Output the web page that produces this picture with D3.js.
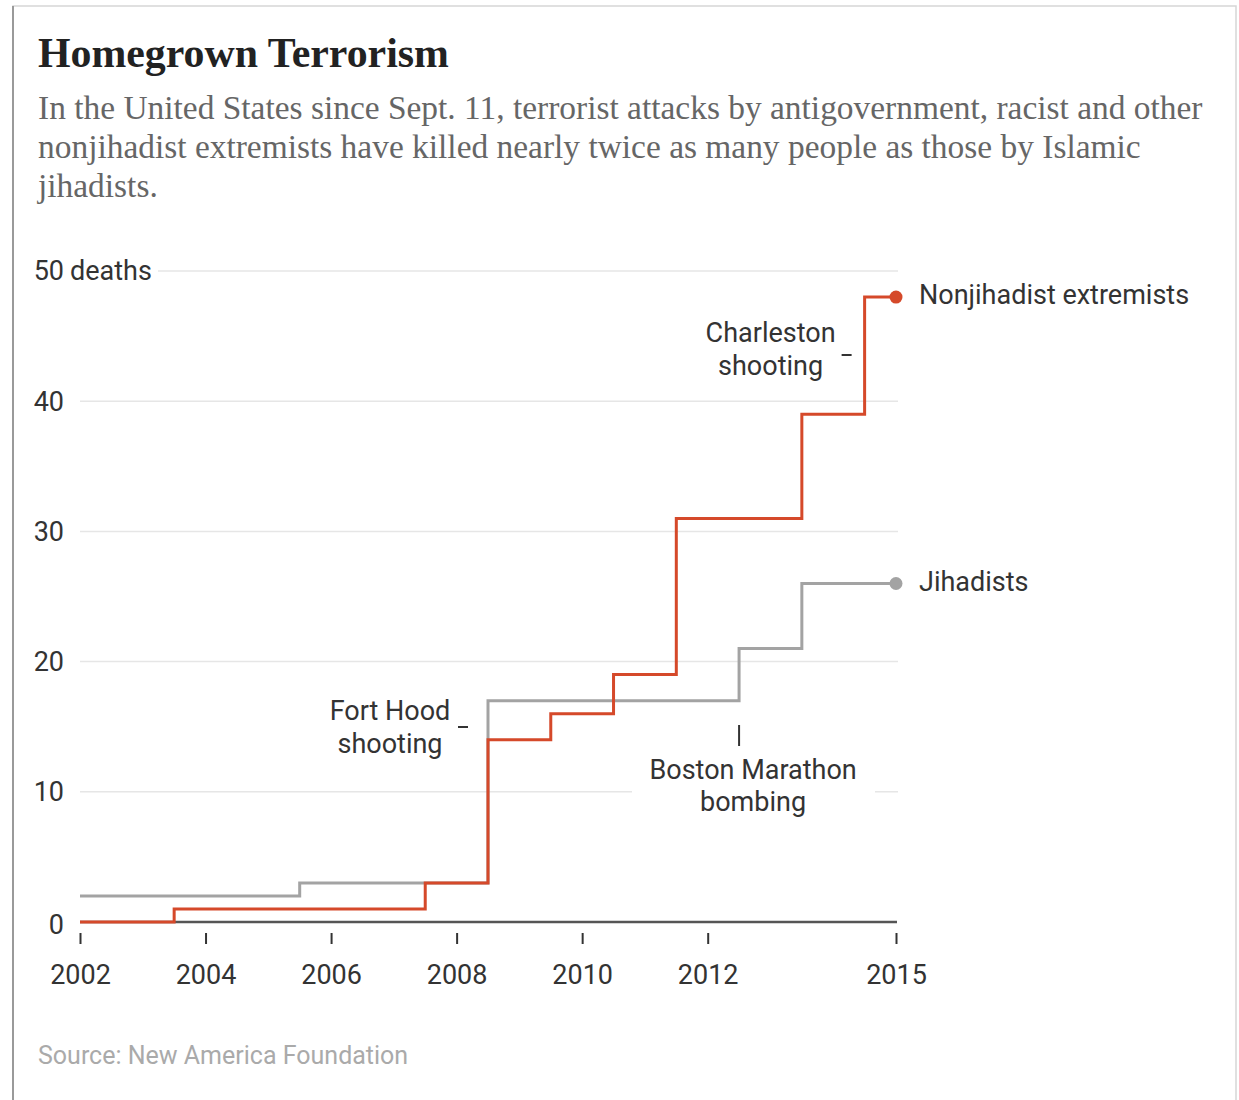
<!DOCTYPE html>
<html>
<head>
<meta charset="utf-8">
<script src="https://cdn.jsdelivr.net/npm/d3@7"></script>
<style>
  html, body { margin: 0; padding: 0; background: #fff; }
  svg { display: block; }
</style>
</head>
<body>
<svg id="chart" width="1239" height="1100"></svg>
<script>
// ---- Data ----
const years = [2002, 2003, 2004, 2005, 2006, 2007, 2008, 2009, 2010, 2011, 2012, 2013, 2014, 2015];
const nonjihadist = [0, 0, 1, 1, 1, 1, 3, 14, 16, 19, 31, 31, 39, 48];
const jihadist = [2, 2, 2, 2, 3, 3, 3, 17, 17, 17, 17, 21, 26, 26];
const xTicks = [2002, 2004, 2006, 2008, 2010, 2012, 2015];
const yTicks = [0, 10, 20, 30, 40, 50];
const seriesNames = ["Nonjihadist extremists", "Jihadists"];
const titleText = "Homegrown Terrorism";
const subtitleLines = [
  "In the United States since Sept. 11, terrorist attacks by antigovernment, racist and other",
  "nonjihadist extremists have killed nearly twice as many people as those by Islamic",
  "jihadists."
];
const annotationLabels = [
  ["Charleston", "shooting"],
  ["Fort Hood", "shooting"],
  ["Boston Marathon", "bombing"]
];
const annotationYears = [2014.5, 2008.5, 2012.5];
const sourceText = "Source: New America Foundation";

// ---- Setup ----
const svg = d3.select("#chart");
const SANS = "Roboto, 'Liberation Sans', Arial, sans-serif";
const SERIF = "'Liberation Serif', 'Times New Roman', serif";
const RED = "#d5492a";
const GRAY = "#a3a3a3";
const FS = 27;

// frame
svg.append("rect").attr("x", 13).attr("y", 6).attr("width", 1223).attr("height", 1110)
  .attr("fill", "#fff").attr("stroke", "#d6d6d6").attr("stroke-width", 1.5);
svg.append("line").attr("x1", 13).attr("x2", 13).attr("y1", 6).attr("y2", 1100)
  .attr("stroke", "#9a9a9a").attr("stroke-width", 2);

function fitText(sel, targetWidth) {
  const node = sel.node();
  const fs = parseFloat(sel.attr("font-size"));
  const w = node.getComputedTextLength();
  const nfs = fs * targetWidth / w;
  sel.attr("font-size", nfs);
  return nfs;
}

// Title
const title = svg.append("text").attr("x", 38).attr("y", 67)
  .attr("font-family", SERIF).attr("font-weight", "bold").attr("font-size", 41)
  .attr("fill", "#222").text(titleText);
fitText(title, 411);

// Subtitle
const sub = svg.append("g");
const subLine1 = sub.append("text").attr("x", 38).attr("y", 119)
  .attr("font-family", SERIF).attr("font-size", 29).attr("fill", "#666").text(subtitleLines[0]);
const subFs = fitText(subLine1, 1165);
subtitleLines.slice(1).forEach((t, i) => {
  sub.append("text").attr("x", 38).attr("y", 119 + 39 * (i + 1))
    .attr("font-family", SERIF).attr("font-size", subFs).attr("fill", "#666").text(t);
});

// Scales
const x = d3.scaleLinear().domain([2002, 2015]).range([80, 896]);
const y = d3.scaleLinear().domain([0, 50]).range([922, 271]);

// Grid lines
const grid = svg.append("g");
yTicks.filter(d => d > 0).forEach(d => {
  grid.append("line")
    .attr("x1", d === 50 ? 158 : 80).attr("x2", 898)
    .attr("y1", y(d)).attr("y2", y(d))
    .attr("stroke", "#e6e6e6").attr("stroke-width", 1.5);
});

// Y labels
const yl = svg.append("g").attr("font-family", SANS).attr("font-size", FS).attr("fill", "#333");
yTicks.forEach(d => {
  yl.append("text").attr("x", 64).attr("y", y(d) + (d === 0 ? 3 : 0)).attr("dy", "0.35em")
    .attr("text-anchor", "end").text(d);
  if (d === 50) {
    yl.append("text").attr("x", 70).attr("y", y(d)).attr("dy", "0.35em")
      .attr("text-anchor", "start").text("deaths");
  }
});

// X axis
const xAxisG = svg.append("g").attr("transform", `translate(0,${y(0)})`);
xAxisG.append("line").attr("x1", x(2002)).attr("x2", x(2015) + 1).attr("y1", 0).attr("y2", 0)
  .attr("stroke", "#555").attr("stroke-width", 2.5);
const xAxis = d3.axisBottom(x).tickValues(xTicks).tickFormat(d3.format("d")).tickSize(0).tickPadding(0);
const xa = svg.append("g").attr("transform", `translate(0,${y(0)})`).call(xAxis);
xa.select(".domain").remove();
xa.selectAll(".tick text").attr("font-family", SANS).attr("font-size", FS).attr("fill", "#333")
  .attr("y", 53).attr("dy", "0.35em");
xa.selectAll(".tick").append("line").attr("y1", 11).attr("y2", 22)
  .attr("stroke", "#333").attr("stroke-width", 2);

// Lines
const line = d3.line().x((d, i) => x(years[i])).y(d => y(d)).curve(d3.curveStep);
svg.append("path").datum(jihadist).attr("d", line).attr("fill", "none")
  .attr("stroke", GRAY).attr("stroke-width", 3);
svg.append("path").datum(nonjihadist).attr("d", line).attr("fill", "none")
  .attr("stroke", RED).attr("stroke-width", 3);

// End dots & labels
const last = years.length - 1;
[[nonjihadist, RED], [jihadist, GRAY]].forEach(([s, c], i) => {
  svg.append("circle").attr("cx", x(years[last])).attr("cy", y(s[last])).attr("r", 6.5).attr("fill", c);
  svg.append("text").attr("x", x(years[last]) + 23).attr("y", y(s[last]) - 2).attr("dy", "0.35em")
    .attr("font-family", SANS).attr("font-size", FS).attr("fill", "#333").text(seriesNames[i]);
});

// Annotations
const ann = svg.append("g").attr("font-family", SANS).attr("font-size", FS).attr("fill", "#333")
  .attr("text-anchor", "middle");
// Charleston
(function () {
  const ax = x(annotationYears[0]);
  ann.append("line").attr("x1", ax - 23).attr("x2", ax - 13).attr("y1", 355).attr("y2", 355)
    .attr("stroke", "#333").attr("stroke-width", 2);
  annotationLabels[0].forEach((t, i) => {
    ann.append("text").attr("x", ax - 94).attr("y", 333 + 33 * i).attr("dy", "0.35em").text(t);
  });
})();
// Fort Hood
(function () {
  const ax = x(annotationYears[1]);
  ann.append("line").attr("x1", ax - 30).attr("x2", ax - 20).attr("y1", 727).attr("y2", 727)
    .attr("stroke", "#333").attr("stroke-width", 2);
  annotationLabels[1].forEach((t, i) => {
    ann.append("text").attr("x", ax - 98).attr("y", 711 + 33 * i).attr("dy", "0.35em").text(t);
  });
})();
// Boston
(function () {
  const ax = x(annotationYears[2]);
  ann.append("rect").attr("x", 632).attr("y", 753).attr("width", 243).attr("height", 66).attr("fill", "#fff");
  ann.append("line").attr("x1", ax).attr("x2", ax).attr("y1", 725).attr("y2", 746)
    .attr("stroke", "#333").attr("stroke-width", 2);
  annotationLabels[2].forEach((t, i) => {
    ann.append("text").attr("x", ax + 14).attr("y", 770 + 32 * i).attr("dy", "0.35em").text(t);
  });
})();

// Source
svg.append("text").attr("x", 38).attr("y", 1055).attr("dy", "0.35em")
  .attr("font-family", SANS).attr("font-size", 25).attr("fill", "#aaa").text(sourceText);
</script>
</body>
</html>
